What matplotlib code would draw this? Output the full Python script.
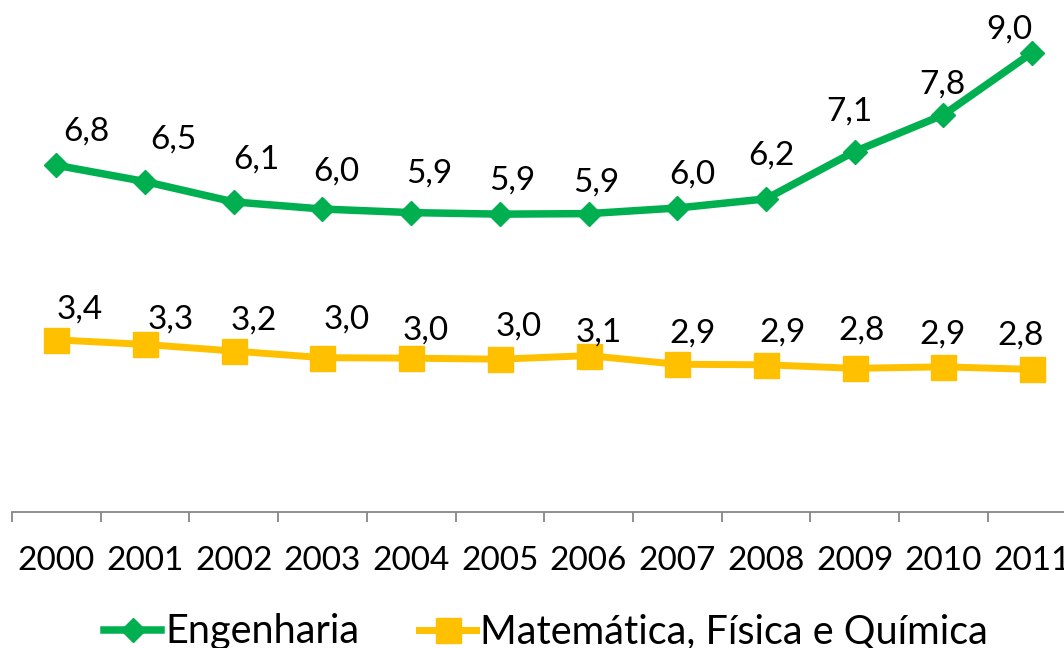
import numpy as np
import matplotlib.pyplot as plt

plt.rcParams['font.family'] = ['Lato', 'DejaVu Sans']

# dados
anos = ['2000', '2001', '2002', '2003', '2004', '2005',
        '2006', '2007', '2008', '2009', '2010', '2011']
engenharia = [6.82, 6.50, 6.10, 5.96, 5.89, 5.86, 5.87, 5.98, 6.16, 7.09, 7.81, 9.03]
matematica = [3.39, 3.30, 3.17, 3.04, 3.03, 3.01, 3.08, 2.91, 2.90, 2.83, 2.86, 2.81]

nome_eng = 'Engenharia'
nome_mat = 'Matemática, Física e Química'

# deslocamento dos rotulos (pixels) para imitar o Excel
eng_dx = [30, 28, 23, 14, 18, 12, 8, 15, 5, -5, -1, -23]
eng_dy = [34, 42, 42, 38, 39, 34, 31, 33, 43, 40, 30, 23]
mat_dx = [23, 26, 20, 24, 14, 19, 10, 15, 17, 7, -1, -11]
mat_dy = [30, 25, 31, 38, 28, 33, 23, 31, 32, 38, 32, 34]

verde = '#00B050'
amarelo = '#FFC000'
cinza = '#868686'
fs = 24
fs_leg = 28.5

fig = plt.figure(figsize=(10.64, 6.48), dpi=100)
ax = fig.add_axes([12 / 1064, (648 - 512.4) / 648, 88.7 * 12 / 1064, 509 / 648])

x = np.arange(len(anos))
l1, = ax.plot(x, engenharia, color=verde, lw=5.4, marker='D', ms=12.5,
              solid_joinstyle='round', clip_on=False)
l2, = ax.plot(x, matematica, color=amarelo, lw=5.0, marker='s', ms=18,
              solid_joinstyle='round', clip_on=False)

for i in range(len(anos)):
    ax.annotate(f'{engenharia[i]:.1f}'.replace('.', ','), (x[i], engenharia[i]),
                xytext=(eng_dx[i], eng_dy[i]), textcoords='offset pixels',
                ha='center', va='center', fontsize=fs, annotation_clip=False)
    ax.annotate(f'{matematica[i]:.1f}'.replace('.', ','), (x[i], matematica[i]),
                xytext=(mat_dx[i], mat_dy[i]), textcoords='offset pixels',
                ha='center', va='center', fontsize=fs, annotation_clip=False)

ax.set_xlim(-0.5, len(anos) - 0.5)
ax.set_ylim(0, 10)

for s in ['top', 'right', 'left']:
    ax.spines[s].set_visible(False)
ax.spines['bottom'].set_color(cinza)
ax.spines['bottom'].set_linewidth(1.3)

ax.set_yticks([])
ax.set_xticks(np.arange(-0.5, len(anos), 1.0))
ax.set_xticklabels([])
ax.tick_params(axis='x', which='major', length=7.5, width=1.3, color=cinza, direction='out')
ax.set_xticks(x, minor=True)
ax.set_xticklabels(anos, minor=True, fontsize=fs)
ax.tick_params(axis='x', which='minor', length=0, pad=24)

fig.legend([l1, l2], [nome_eng, nome_mat], loc='center',
           bbox_to_anchor=(546 / 1064, 1 - 632 / 648), ncol=2, frameon=False,
           fontsize=fs_leg, handlelength=1.45, handletextpad=0.1, columnspacing=1.5,
           numpoints=1, borderpad=0)

fig.savefig('out.png', dpi=100, facecolor='white')
